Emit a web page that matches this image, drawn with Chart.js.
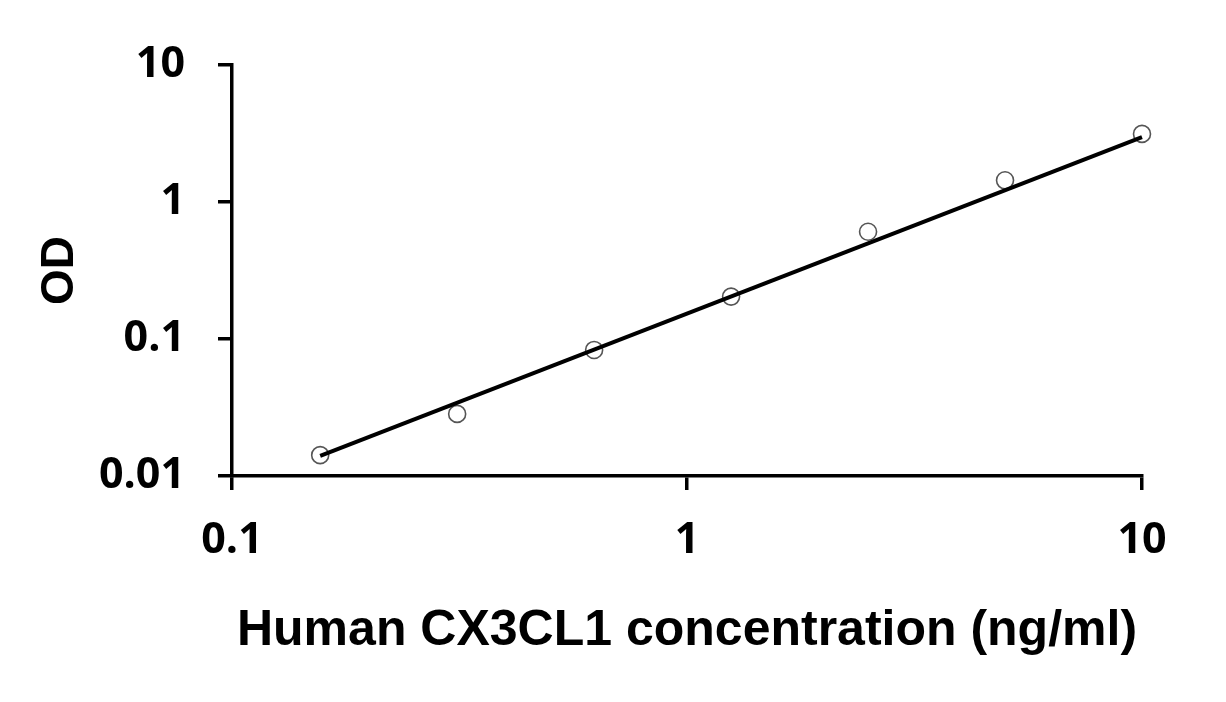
<!DOCTYPE html>
<html>
<head>
<meta charset="utf-8">
<script src="https://cdn.jsdelivr.net/npm/chart.js@4"></script>
<style>
  html, body { margin: 0; padding: 0; background: #ffffff; }
  #wrap { width: 1226px; height: 702px; }
</style>
</head>
<body>
<div id="wrap"><canvas id="c" width="1226" height="702"></canvas></div>
<script>
// Data
const concentrations = [0.15625, 0.3125, 0.625, 1.25, 2.5, 5, 10];
const odValues = [0.0142, 0.0284, 0.0832, 0.204, 0.607, 1.44, 3.14];
const trendX = [0.15625, 10];
const trendY = [0.0140, 2.98];
const xTickValues = [0.1, 1, 10];
const xTickLabels = ['0.1', '1', '10'];
const yTickValues = [0.01, 0.1, 1, 10];
const yTickLabels = ['0.01', '0.1', '1', '10'];
const xTitle = 'Human CX3CL1 concentration (ng/ml)';
const yTitle = 'OD';

const tickFont = { family: "'Open Sans', sans-serif", size: 43, weight: 'bold' };
const titleFont = { family: "'Liberation Sans', Arial, sans-serif", size: 50, weight: 'bold' };

function fixedTicks(values) {
  return function (scale) {
    scale.ticks = values.map(v => ({ value: v }));
  };
}

new Chart(document.getElementById('c'), {
  type: 'scatter',
  data: {
    datasets: [
      {
        label: 'Fit',
        type: 'line',
        data: trendX.map((x, i) => ({ x: x, y: trendY[i] })),
        borderColor: '#000000',
        borderWidth: 4,
        pointRadius: 0,
        fill: false,
        tension: 0,
        clip: false,
        order: 1
      },
      {
        label: 'OD',
        data: concentrations.map((x, i) => ({ x: x, y: odValues[i] })),
        pointStyle: 'circle',
        pointRadius: 8.5,
        pointBorderWidth: 1.6,
        pointBorderColor: '#555555',
        pointBackgroundColor: 'rgba(0,0,0,0)',
        showLine: false,
        clip: false,
        order: 2
      }
    ]
  },
  options: {
    responsive: false,
    animation: false,
    devicePixelRatio: 1,
    layout: { padding: { left: 0, top: 65, right: 84, bottom: 0 } },
    plugins: {
      legend: { display: false },
      tooltip: { enabled: false }
    },
    scales: {
      x: {
        type: 'logarithmic',
        position: 'bottom',
        min: 0.1,
        max: 10,
        afterBuildTicks: fixedTicks(xTickValues),
        afterFit: function (scale) { scale.height = 226; },
        ticks: {
          autoSkip: false,
          maxRotation: 0,
          padding: 25,
          color: '#000000',
          font: tickFont,
          callback: function (value) {
            const i = xTickValues.indexOf(value);
            return i >= 0 ? xTickLabels[i] : '';
          }
        },
        grid: {
          drawOnChartArea: false,
          drawTicks: true,
          tickLength: 14,
          color: '#000000',
          lineWidth: 3.5
        },
        border: { display: true, color: '#000000', width: 3.5 },
        title: {
          display: true,
          text: xTitle,
          color: '#000000',
          font: titleFont,
          padding: { top: 0, bottom: 41 }
        }
      },
      y: {
        type: 'logarithmic',
        position: 'left',
        min: 0.01,
        max: 10,
        afterBuildTicks: fixedTicks(yTickValues),
        afterFit: function (scale) { scale.width = 232; },
        ticks: {
          autoSkip: false,
          padding: 33,
          color: '#000000',
          font: tickFont,
          callback: function (value) {
            const i = yTickValues.indexOf(value);
            return i >= 0 ? yTickLabels[i] : '';
          }
        },
        grid: {
          drawOnChartArea: false,
          drawTicks: true,
          tickLength: 14,
          color: '#000000',
          lineWidth: 3.5
        },
        border: { display: true, color: '#000000', width: 3.5 },
        title: {
          display: true,
          text: yTitle,
          color: '#000000',
          font: { family: "'Liberation Sans', Arial, sans-serif", size: 46, weight: 'bold' },
          padding: { top: 33, bottom: 0 }
        }
      }
    }
  }
});
</script>
</body>
</html>
